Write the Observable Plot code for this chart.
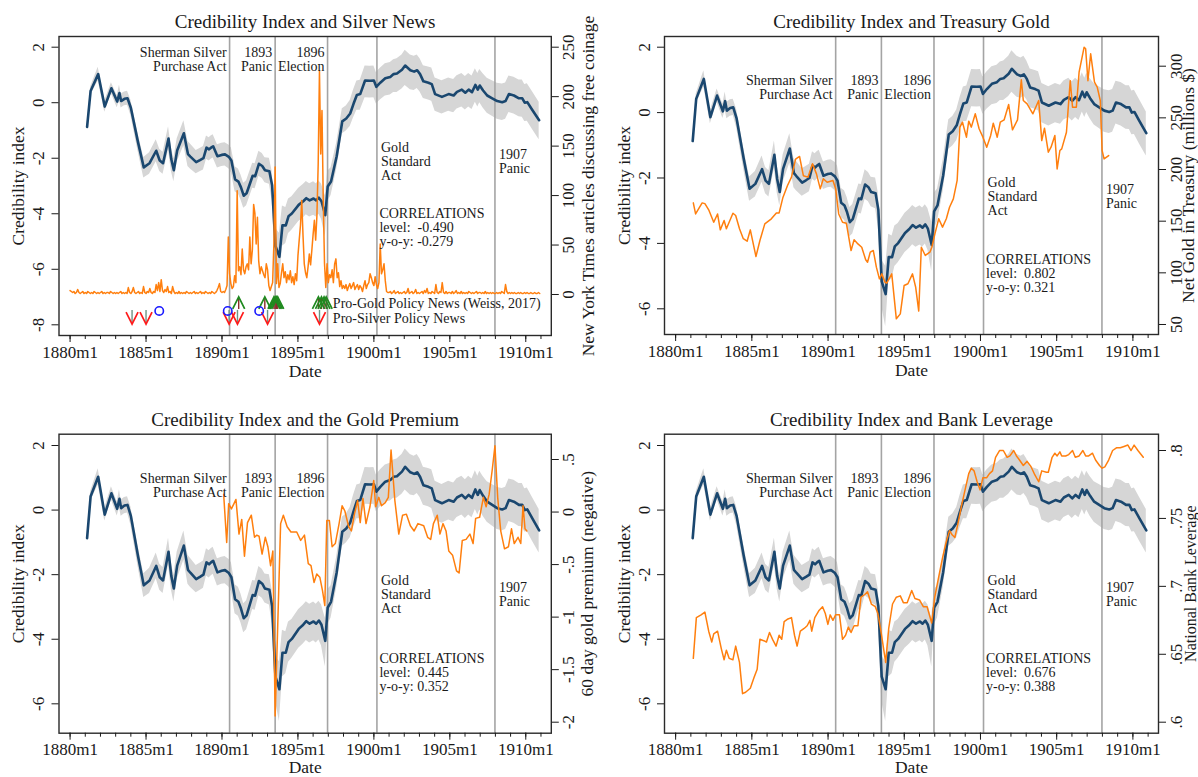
<!DOCTYPE html>
<html><head><meta charset="utf-8">
<script src="https://cdn.jsdelivr.net/npm/d3@7"></script>
<script src="https://cdn.jsdelivr.net/npm/@observablehq/plot@0.6"></script>
<style>
body{margin:0;background:#fff;}
#wrap{position:relative;width:1198px;height:777px;overflow:hidden;background:#fff;}
.panel{position:absolute;}
</style></head><body><div id="wrap"></div>
<script>
// ---------- DATA ----------
const ciDates = [1881.12,1881.35,1881.85,1882.28,1882.72,1883.10,1883.25,1883.36,1883.58,1883.78,1884.00,1884.47,1884.85,1885.23,1885.67,1885.90,1886.12,1886.48,1886.66,1886.83,1887.05,1887.49,1887.76,1887.92,1888.30,1888.55,1888.78,1888.98,1889.15,1889.28,1889.42,1889.70,1889.98,1890.20,1890.45,1890.62,1890.86,1891.08,1891.25,1891.43,1891.62,1892.02,1892.18,1892.43,1892.65,1892.83,1893.12,1893.30,1893.52,1893.78,1893.98,1894.20,1894.38,1894.60,1895.05,1895.35,1895.55,1895.77,1896.03,1896.20,1896.38,1896.55,1896.80,1896.96,1897.18,1897.55,1897.92,1898.18,1898.44,1898.66,1898.88,1899.10,1899.42,1899.75,1900.00,1900.16,1900.42,1900.75,1901.08,1901.30,1901.52,1901.85,1902.06,1902.40,1902.65,1902.85,1903.04,1903.26,1903.59,1903.81,1904.03,1904.48,1904.92,1905.25,1905.47,1905.79,1906.02,1906.24,1906.46,1906.68,1906.84,1906.97,1907.19,1907.46,1907.79,1908.12,1908.45,1908.67,1908.89,1909.22,1909.55,1909.77,1909.93,1910.10,1910.43,1910.88];
const ciValues = [-0.87,0.42,1.03,-0.14,0.52,0.04,0.35,0.06,0.14,0.16,-0.18,-1.42,-2.33,-2.18,-1.73,-2.08,-2.18,-1.29,-2.03,-2.43,-1.72,-1.10,-1.85,-1.94,-2.14,-2.07,-2.00,-1.62,-1.68,-1.62,-1.57,-1.93,-1.88,-1.86,-1.95,-2.08,-2.76,-2.84,-3.05,-3.35,-3.26,-2.63,-2.65,-2.20,-2.28,-2.43,-2.47,-2.97,-5.16,-5.55,-4.42,-4.42,-4.09,-3.99,-3.68,-3.55,-3.44,-3.52,-3.45,-3.52,-3.42,-3.55,-4.05,-3.02,-2.84,-1.93,-0.67,-0.57,-0.39,-0.04,0.28,0.31,0.80,0.79,0.80,0.57,0.72,0.88,0.93,1.03,1.05,1.19,1.34,1.17,1.12,1.17,1.03,0.77,0.72,0.67,0.31,0.21,0.31,0.26,0.39,0.47,0.36,0.47,0.38,0.64,0.47,0.62,0.44,0.26,0.16,0.06,0.02,0.06,0.31,0.26,0.16,0.16,0.00,0.02,-0.26,-0.63];
const ciUp = [0.10,0.15,0.25,0.20,0.20,0.22,0.28,0.25,0.25,0.25,0.28,0.32,0.36,0.38,0.40,0.40,0.40,0.42,0.42,0.42,0.42,0.45,0.45,0.45,0.42,0.42,0.42,0.42,0.42,0.42,0.42,0.42,0.42,0.42,0.43,0.45,0.45,0.45,0.45,0.45,0.45,0.45,0.45,0.45,0.45,0.45,0.47,0.50,0.65,0.85,0.70,0.65,0.62,0.60,0.60,0.60,0.60,0.60,0.60,0.60,0.60,0.62,0.70,0.55,0.50,0.48,0.45,0.45,0.47,0.50,0.50,0.50,0.52,0.52,0.52,0.52,0.52,0.52,0.52,0.52,0.53,0.53,0.55,0.55,0.55,0.55,0.55,0.56,0.57,0.58,0.58,0.58,0.58,0.58,0.58,0.58,0.58,0.58,0.58,0.58,0.58,0.58,0.60,0.62,0.63,0.64,0.65,0.65,0.65,0.66,0.66,0.66,0.66,0.66,0.66,0.65];
const ciDown = [0.10,0.15,0.25,0.20,0.20,0.22,0.28,0.25,0.25,0.25,0.28,0.32,0.38,0.40,0.40,0.40,0.40,0.42,0.42,0.42,0.42,0.45,0.45,0.45,0.42,0.42,0.42,0.42,0.42,0.42,0.42,0.42,0.42,0.42,0.43,0.45,0.45,0.45,0.45,0.45,0.45,0.45,0.45,0.45,0.45,0.45,0.47,0.55,0.75,1.00,0.75,0.65,0.62,0.60,0.60,0.60,0.60,0.60,0.60,0.60,0.60,0.65,0.80,0.55,0.50,0.48,0.45,0.45,0.47,0.50,0.55,0.58,0.62,0.62,0.62,0.62,0.62,0.64,0.65,0.66,0.68,0.70,0.72,0.70,0.68,0.66,0.64,0.62,0.62,0.62,0.62,0.62,0.62,0.62,0.62,0.62,0.62,0.62,0.62,0.62,0.62,0.62,0.63,0.64,0.65,0.66,0.66,0.66,0.66,0.67,0.67,0.68,0.68,0.69,0.70,0.70];

// New York Times articles discussing free coinage, monthly from 1880m1
const nytStartYear = 1880;
const nytMonthly = [
4,3,2,3,1,2,5,2,1,2,3,1,
2,1,3,2,1,2,1,3,2,1,2,1,
2,3,1,2,1,2,2,1,3,2,1,2,
1,2,1,2,3,1,2,1,2,1,7,2,
1,3,7,2,1,2,3,1,2,1,8,2,
1,3,2,6,2,1,3,2,10,4,12,3,
15,4,2,5,3,8,2,3,1,8,3,1,
2,1,3,1,2,1,2,1,3,2,1,2,
1,2,3,1,2,1,2,3,1,2,1,3,
2,1,2,1,3,2,1,2,4,7,11,3,
2,3,2,5,9,58,21,11,6,8,19,12,
105,24,28,20,46,25,21,28,31,25,58,31,
45,91,82,51,78,34,21,28,24,20,17,31,
25,9,4,8,12,51,129,11,31,7,11,22,
31,17,23,12,20,15,24,12,18,10,21,14,
39,55,70,95,60,31,22,17,28,41,30,45,
61,75,55,80,132,226,142,186,95,31,7,31,
12,20,17,25,12,31,36,17,22,8,14,6,
9,6,10,4,8,11,6,9,12,5,8,10,
5,9,7,3,9,14,6,10,12,21,17,12,
9,18,10,6,12,51,21,25,31,14,3,2,
2,3,1,2,4,1,2,3,1,2,1,2,
3,1,2,6,1,2,3,1,2,5,1,2,
1,2,3,1,4,2,6,1,2,1,3,2,
1,10,2,1,3,2,12,2,1,3,1,2,
2,1,3,1,2,4,1,2,1,3,1,2,
1,2,1,3,2,1,2,1,2,3,1,2,
2,1,2,1,3,1,2,1,2,1,2,1,
1,2,1,2,1,3,2,1,10,3,1,2,
1,2,1,2,1,1,2,1,2,1,1,2,
1,2,1,1,2,1,1,2,1,1,2,1];

const goldDates = [1881.16,1881.31,1881.74,1881.92,1882.17,1882.5,1882.75,1882.93,1883.18,1883.33,1883.76,1883.94,1884.19,1884.44,1884.69,1884.9,1885.27,1885.53,1885.85,1886.28,1886.61,1886.79,1887.04,1887.34,1887.6,1887.87,1888.13,1888.38,1888.68,1888.98,1889.24,1889.49,1889.69,1889.94,1890.32,1890.5,1890.7,1890.95,1891.2,1891.51,1891.71,1891.96,1892.21,1892.47,1892.59,1892.77,1892.97,1893.17,1893.37,1893.53,1893.73,1893.85,1894.18,1894.48,1894.74,1894.99,1895.24,1895.54,1895.75,1895.95,1896.12,1896.38,1896.68,1896.81,1897.01,1897.26,1897.51,1897.76,1897.97,1898.22,1898.47,1898.65,1898.82,1899.08,1899.23,1899.4,1899.66,1899.91,1900.16,1900.41,1900.67,1900.84,1901.1,1901.3,1901.55,1901.85,1902.1,1902.43,1902.68,1902.81,1903.06,1903.44,1903.82,1904.02,1904.2,1904.45,1904.63,1904.88,1905.03,1905.21,1905.33,1905.64,1905.89,1906.04,1906.29,1906.47,1906.8,1906.9,1907.05,1907.23,1907.48,1907.66,1907.86,1907.98,1908.11,1908.41];
const goldValues = [167.7,157,167.7,167,161,149,157,141.6,150.6,142.6,157.7,155.5,142.6,133,130.6,141.6,115.8,131.3,147.4,152.3,158,158,173,184.5,192.6,210,212.6,194,192.6,205.5,195.8,181.3,191,187.7,189.4,181.3,157,149,148,121.6,132,128,124.8,112.6,110.3,120,121.6,105.5,94.2,99,91,90,99,55.5,60.3,87.7,89.4,99,86,63,124.8,116.8,120,124.8,137.7,152.3,144.2,152.3,163.5,171.6,189.4,241,245.8,231.3,246.8,241,253.9,239.4,231.3,221.6,233,244.8,231.3,245.8,248,262.9,238.4,248,286.8,266.8,263.5,253.9,266.8,228,240,216.8,221.6,233,200.6,218.4,220,236,286,260.3,260.3,294.2,318.4,316.8,286,312,284.5,279.7,266.8,218.4,210.3,213.5];

const premiumDates = [1890.11,1890.31,1890.44,1890.62,1890.79,1890.92,1891.12,1891.3,1891.48,1891.68,1891.93,1892.14,1892.29,1892.44,1892.64,1892.85,1893.02,1893.2,1893.35,1893.5,1893.86,1894.04,1894.29,1894.54,1894.92,1895.18,1895.43,1895.68,1895.86,1896.06,1896.24,1896.44,1896.62,1896.77,1896.9,1897.07,1897.25,1897.46,1897.71,1897.91,1898.09,1898.34,1898.52,1898.72,1898.93,1899.1,1899.28,1899.48,1899.74,1899.99,1900.12,1900.32,1900.5,1900.75,1900.95,1901.13,1901.38,1901.64,1901.89,1902.14,1902.4,1902.65,1902.9,1903.28,1903.54,1903.74,1903.92,1904.17,1904.35,1904.55,1904.75,1904.93,1905.18,1905.44,1905.61,1905.82,1906.07,1906.32,1906.53,1906.7,1906.96,1907.21,1907.39,1907.59,1907.79,1907.97,1908.15,1908.35,1908.6,1908.86,1909.06,1909.24,1909.49,1909.67,1909.82,1909.95,1910.07];
const premiumValues = [0.17,-0.29,0.08,0.03,0.08,0.12,-0.21,-0.07,-0.42,-0.10,-0.03,-0.24,-0.22,-0.23,-0.40,-0.24,-0.33,-0.51,-0.37,-1.94,-0.11,-0.03,-0.14,-0.19,-0.19,-0.27,-0.22,-0.49,-0.51,-0.67,-0.59,-0.62,-0.75,-0.89,-0.08,-0.08,-0.33,-0.30,-0.11,0.06,0.01,-0.14,-0.18,-0.02,0.11,-0.10,0.13,-0.11,0.05,0.30,0.05,0.14,0.06,0.09,0.14,0.59,0.11,-0.21,-0.03,-0.02,-0.13,-0.18,-0.11,-0.13,-0.24,-0.26,-0.11,-0.03,-0.21,-0.11,-0.18,-0.37,-0.41,-0.56,-0.58,-0.27,-0.26,-0.21,-0.30,-0.06,-0.05,0.14,0.05,0.17,0.40,0.63,0.14,-0.18,-0.35,-0.33,-0.16,-0.30,-0.24,-0.30,0.06,-0.16,-0.18];

const leverageDates = [1881.16,1881.36,1881.67,1881.92,1882.17,1882.37,1882.5,1882.75,1883.0,1883.18,1883.33,1883.51,1883.76,1883.94,1884.19,1884.39,1884.59,1884.9,1885.15,1885.35,1885.53,1885.78,1885.96,1886.16,1886.36,1886.59,1886.79,1886.96,1887.12,1887.37,1887.6,1887.8,1887.97,1888.18,1888.43,1888.63,1888.81,1888.93,1889.13,1889.39,1889.64,1889.82,1889.99,1890.14,1890.32,1890.5,1890.75,1890.95,1891.15,1891.33,1891.51,1891.71,1891.96,1892.16,1892.41,1892.59,1892.84,1893.1,1893.27,1893.47,1893.78,1893.98,1894.23,1894.48,1894.74,1894.94,1895.19,1895.49,1895.7,1896.0,1896.25,1896.5,1896.8,1897.0,1897.26,1897.51,1897.76,1897.97,1898.14,1898.32,1898.52,1898.77,1899.03,1899.23,1899.4,1899.58,1899.78,1899.98,1900.16,1900.41,1900.59,1900.79,1900.99,1901.25,1901.5,1901.75,1901.93,1902.18,1902.36,1902.56,1902.81,1903.06,1903.32,1903.57,1903.82,1904.02,1904.33,1904.45,1904.7,1904.88,1905.03,1905.21,1905.33,1905.59,1905.79,1906.04,1906.22,1906.47,1906.72,1906.9,1907.1,1907.35,1907.55,1907.81,1907.98,1908.16,1908.41,1908.67,1908.92,1909.17,1909.42,1909.67,1909.88,1910.08,1910.33,1910.68];
const leverageValues = [.647,.677,.679,.681,.667,.659,.665,.667,.654,.646,.653,.647,.646,.656,.644,.621,.622,.625,.633,.639,.661,.660,.659,.666,.661,.656,.664,.661,.674,.676,.677,.664,.656,.667,.669,.671,.675,.667,.677,.682,.685,.680,.672,.679,.675,.679,.679,.661,.664,.670,.666,.671,.671,.692,.694,.696,.687,.685,.680,.667,.644,.669,.687,.692,.693,.688,.688,.697,.691,.690,.685,.685,.673,.692,.707,.721,.733,.741,.738,.736,.746,.760,.773,.783,.787,.785,.777,.771,.780,.780,.783,.785,.795,.800,.800,.795,.796,.800,.796,.793,.789,.792,.788,.782,.777,.785,.784,.784,.795,.798,.796,.799,.796,.796,.797,.800,.795,.796,.800,.796,.796,.798,.793,.789,.787,.788,.793,.800,.802,.802,.803,.804,.800,.804,.800,.795];

// events (vertical lines) and their labels
const eventDates = [1890.5, 1893.5, 1896.95, 1900.2, 1907.97];
const leftNotes = ["Sherman Silver\nPurchase Act", "1893\nPanic", "1896\nElection"];
const rightNotes = ["Gold\nStandard\nAct", "1907\nPanic"];

// policy news markers (panel 1)
const proGoldDates = [1891.1, 1892.82, 1893.42, 1893.5, 1893.58, 1893.67, 1896.35, 1896.55, 1896.72, 1896.86];
const proSilverDates = [1884.08, 1885.0, 1890.47, 1891.02, 1893.0, 1896.42];
const neutralDates = [1885.87, 1890.38, 1892.45];
const legendLabels = ["Pro-Gold Policy News (Weiss, 2017)", "Pro-Silver Policy News"];

const xMajor = [1880, 1885, 1890, 1895, 1900, 1905, 1910];
const xMinor = d3.range(1880, 1912);

// ---------- BUILD ----------
const ci = ciDates.map((t, i) => ({t, v: ciValues[i], lo: ciValues[i] - ciDown[i], hi: ciValues[i] + ciUp[i]}));
const nyt = nytMonthly.map((v, i) => ({t: nytStartYear + i / 12, v}));
const gold = goldDates.map((t, i) => ({t, v: goldValues[i]}));
const premium = premiumDates.map((t, i) => ({t, v: premiumValues[i]}));
const leverage = leverageDates.map((t, i) => ({t, v: leverageValues[i]}));

const NAVY = "#1a476f", ORANGE = "#ff7f0e", BAND = "#d6d6d6", VLINE = "#a4a4a4", INK = "#1a1a1a";
const FONT = "Liberation Serif, Times New Roman, serif";
const xDomain = [1879.27, 1911.68];

const chevronUp = {draw(ctx, size) { const r = Math.sqrt(size / Math.PI); ctx.moveTo(-r, r); ctx.lineTo(0, -r); ctx.lineTo(r, r); }};
const chevronDown = {draw(ctx, size) { const r = Math.sqrt(size / Math.PI); ctx.moveTo(-r, -r); ctx.lineTo(0, r); ctx.lineTo(r, -r); }};

const fmtStata = x => String(+x.toFixed(3)).replace(/^(-?)0\./, "$1.");

function makePanel(c) {
  const toY = v => c.a + (v - c.v0) * c.b;
  const inv = y => c.v0 + (y - c.a) / c.b;
  const notesL = leftNotes.map((text, i) => ({x: eventDates[i], y: c.topY, text}));
  const notesR = rightNotes.map((text, i) => ({x: eventDates[i + 3], y: c.midY, text}));
  const marks = [
    Plot.areaY(ci, {x: "t", y1: "lo", y2: "hi", fill: BAND}),
    Plot.ruleX(eventDates, {x: d => d, stroke: VLINE, strokeWidth: 1.6}),
    Plot.line(ci, {x: "t", y: "v", stroke: NAVY, strokeWidth: 2.6}),
    Plot.line(c.series, {x: "t", y: d => toY(d.v), stroke: ORANGE, strokeWidth: 1.5}),
    ...(c.extra || []),
    Plot.text(notesL, {x: "x", y: "y", text: "text", textAnchor: "end", dx: -3, fontSize: 14, lineHeight: 1.0, fill: INK}),
    Plot.text(notesR, {x: "x", y: "y", text: "text", textAnchor: "start", dx: 4, fontSize: 14, lineHeight: 1.0, fill: INK}),
    Plot.text([c.corr], {x: eventDates[3], y: c.corrY, text: d => d, textAnchor: "start", dx: 2.5, fontSize: 14, lineHeight: 1.0, fill: INK}),
    Plot.frame({stroke: "#2a2a2a", strokeWidth: 1.4}),
    Plot.axisX(xMinor, {tickSize: 4, tickFormat: () => "", label: null}),
    Plot.axisX(xMajor, {tickSize: 7, tickPadding: 3, tickFormat: d => d + "m1", fontSize: 17, label: null}),
    Plot.axisY(c.yTicks, {anchor: "left", tickSize: 7, tickRotate: -90, tickPadding: 8, tickFormat: d => String(d), fontSize: 17, label: null}),
    Plot.axisY(c.rightTicks.map(toY), {anchor: "right", tickSize: 7, tickRotate: -90, lineAnchor: "top", tickPadding: 4, tickFormat: d => fmtStata(inv(d)), fontSize: 17, label: null}),
    Plot.text([c.title], {frameAnchor: "top", dy: -14.3, lineAnchor: "middle", textAnchor: "middle", text: d => d, fontSize: 19, fill: INK}),
    Plot.text(["Date"], {frameAnchor: "bottom", dy: c.dateDy, lineAnchor: "middle", textAnchor: "middle", text: d => d, fontSize: 17.5, fill: INK}),
    Plot.text(["Credibility index"], {frameAnchor: "left", dx: -40.5, rotate: -90, textAnchor: "middle", lineAnchor: "middle", text: d => d, fontSize: 17.5, fill: INK}),
    Plot.text([c.rightLabel], {frameAnchor: "right", dx: c.rightDx, rotate: -90, textAnchor: "middle", lineAnchor: "middle", text: d => d, fontSize: c.rightFont || 17.5, fill: INK})
  ];
  const svg = Plot.plot({
    width: c.width, height: c.height,
    marginLeft: c.ml, marginRight: c.mr, marginTop: c.mt, marginBottom: c.mb,
    x: {domain: xDomain},
    y: {domain: c.yDomain},
    style: {fontFamily: FONT, fontSize: "16px", color: INK, background: "transparent", overflow: "visible"},
    marks
  });
  const div = document.createElement("div");
  div.className = "panel";
  div.style.left = c.left + "px";
  div.style.top = c.top + "px";
  div.appendChild(svg);
  document.getElementById("wrap").appendChild(div);
}

// Panel 1: Silver news
const p1Extra = [
  Plot.ruleX(proGoldDates, {x: d => d, y1: -7.45, y2: -7.03, stroke: "#8b2a2a", strokeWidth: 1.4}),
  Plot.dot(proGoldDates, {x: d => d, y: -7.21, r: 6, symbol: chevronUp, stroke: "#1f8a1f", strokeWidth: 1.7, fill: "none"}),
  Plot.ruleX(proSilverDates, {x: d => d, y1: -7.48, y2: -7.97, stroke: "#6f9585", strokeWidth: 1.4}),
  Plot.dot(proSilverDates, {x: d => d, y: -7.76, r: 6, symbol: chevronDown, stroke: "#ff1a1a", strokeWidth: 1.7, fill: "none"}),
  Plot.dot(neutralDates, {x: d => d, y: -7.5, r: 4.2, stroke: "#1a1aff", strokeWidth: 1.6, fill: "none"}),
  Plot.text(legendLabels, {x: 1897.3, y: (d, i) => [-7.22, -7.76][i], text: d => d, textAnchor: "start", fontSize: 14, fill: INK})
];

makePanel({left: 0, top: 0, width: 600, height: 390, ml: 58.5, mr: 49.2, mt: 36, mb: 55,
  yDomain: [-8.385, 2.385], yTicks: [2, 0, -2, -4, -6, -8],
  a: -6.908, v0: 0, b: 0.035632, rightTicks: [0, 50, 100, 150, 200, 250],
  series: nyt, title: "Credibility Index and Silver News",
  rightLabel: "New York Times articles discussing free coinage", rightDx: 37, dateDy: 36,
  topY: 1.568, midY: -2.13, corrY: -4.51,
  corr: "CORRELATIONS\nlevel:\u00a0 -0.490\ny-o-y: -0.279", extra: p1Extra});

makePanel({left: 600, top: 0, width: 598, height: 390, ml: 64, mr: 40, mt: 36, mb: 56,
  yDomain: [-6.786, 2.327], yTicks: [2, 0, -2, -4, -6],
  a: -6.48, v0: 50, b: 0.031596, rightTicks: [50, 100, 150, 200, 250, 300],
  series: gold, title: "Credibility Index and Treasury Gold",
  rightLabel: "Net Gold in Treasury (millions $)", rightDx: 30, dateDy: 36,
  topY: 0.758, midY: -2.58, corrY: -4.93,
  corr: "CORRELATIONS\nlevel:\u00a0 0.802\ny-o-y: 0.321"});

makePanel({left: 0, top: 390, width: 600, height: 387, ml: 58.5, mr: 49.2, mt: 43.7, mb: 44.3,
  yDomain: [-6.91, 2.35], yTicks: [2, 0, -2, -4, -6],
  a: 1.566, v0: 0.5, b: 3.254, rightTicks: [0.5, 0, -0.5, -1, -1.5, -2],
  series: premium, title: "Credibility Index and the Gold Premium",
  rightLabel: "60 day gold premium (negative)", rightDx: 36.5, dateDy: 34.5,
  topY: 0.76, midY: -2.6, corrY: -5.02,
  corr: "CORRELATIONS\nlevel:\u00a0 0.445\ny-o-y: 0.352"});

makePanel({left: 600, top: 390, width: 598, height: 387, ml: 64, mr: 40, mt: 43.7, mb: 44.3,
  yDomain: [-6.91, 2.35], yTicks: [2, 0, -2, -4, -6],
  a: -6.569, v0: 0.6, b: 42.07, rightTicks: [0.6, 0.65, 0.7, 0.75, 0.8],
  series: leverage, title: "Credibility Index and Bank Leverage",
  rightLabel: "National Bank Leverage", rightDx: 32, rightFont: 16, dateDy: 34.5,
  topY: 0.76, midY: -2.6, corrY: -5.02,
  corr: "CORRELATIONS\nlevel:\u00a0 0.676\ny-o-y: 0.388"});
</script>
</body></html>
